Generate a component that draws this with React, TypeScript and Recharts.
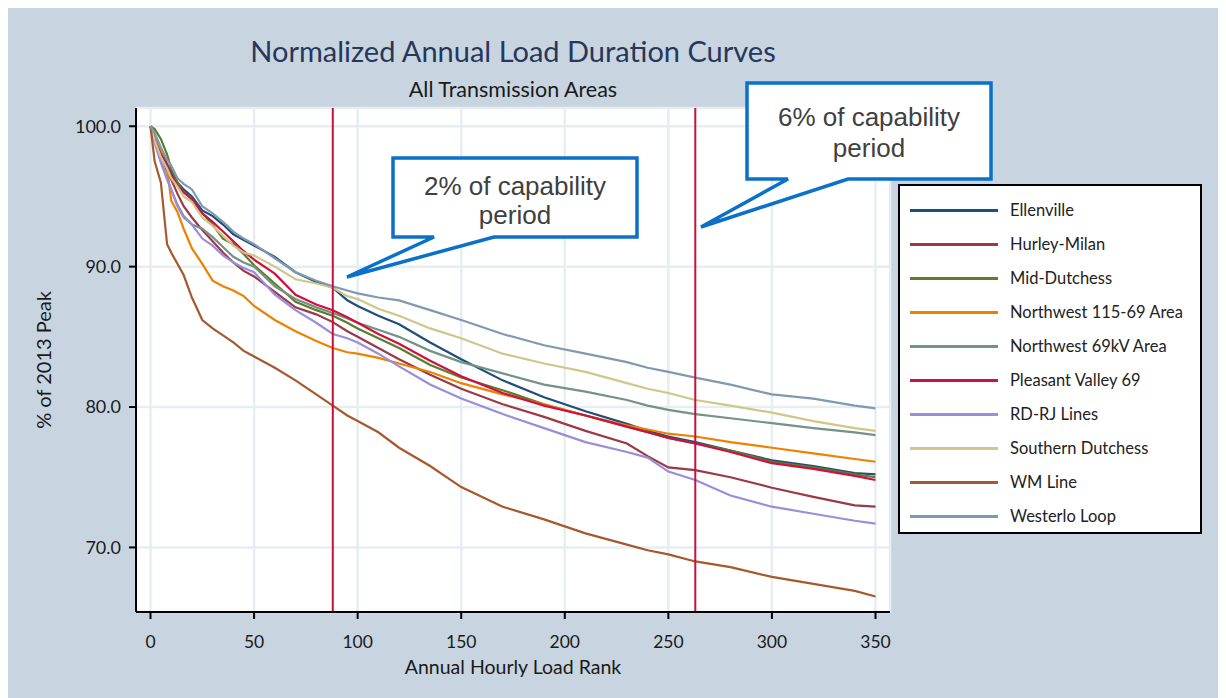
import { LineChart, Line, XAxis, YAxis, CartesianGrid, ReferenceLine, Legend } from 'recharts';

// hourly load rank (x) at which the curves were read
const ranks = [0, 2, 5, 8, 10, 13, 16, 20, 25, 30, 35, 40, 45, 50, 60, 70, 80, 88, 95, 100, 110, 120, 135, 150, 170, 190, 210, 230, 240, 250, 263, 280, 300, 320, 340, 350];

// % of 2013 peak, one list per transmission area
const ellenville = [100, 99.3, 98.2, 97.3, 96.7, 96.0, 95.5, 95.0, 94.0, 93.6, 93.0, 92.3, 91.9, 91.5, 90.7, 89.6, 88.9, 88.5, 87.6, 87.2, 86.5, 85.9, 84.6, 83.4, 81.9, 80.7, 79.7, 78.8, 78.3, 77.9, 77.5, 76.9, 76.2, 75.8, 75.3, 75.2];
const hurleyMilan = [100, 99.3, 98.0, 96.8, 96.2, 95.2, 94.3, 93.5, 92.6, 91.8, 91.0, 90.3, 89.7, 89.3, 88.2, 87.1, 86.6, 86.05, 85.4, 85.0, 84.2, 83.4, 82.3, 81.3, 80.2, 79.3, 78.3, 77.4, 76.5, 75.7, 75.5, 75.0, 74.25, 73.6, 73.0, 72.9];
const midDutchess = [100, 99.8, 99.1, 98.0, 97.0, 96.0, 95.3, 94.8, 93.8, 93.0, 92.0, 91.6, 90.9, 90.1, 88.8, 87.5, 86.9, 86.5, 86.0, 85.6, 84.9, 84.2, 83.0, 82.1, 81.2, 80.2, 79.4, 78.6, 78.2, 77.8, 77.4, 76.9, 76.1, 75.7, 75.2, 75.0];
const northwest11569 = [100, 99.3, 98.2, 97.0, 94.7, 93.9, 92.7, 91.3, 90.2, 89.0, 88.6, 88.3, 87.9, 87.2, 86.2, 85.4, 84.7, 84.2, 83.9, 83.8, 83.5, 83.1, 82.5, 81.7, 80.9, 80.2, 79.4, 78.7, 78.4, 78.1, 77.9, 77.5, 77.1, 76.7, 76.3, 76.1];
const northwest69kv = [100, 99.2, 97.5, 96.3, 95.5, 94.4, 93.6, 93.0, 92.7, 92.1, 91.4, 90.7, 90.3, 90.0, 88.6, 87.7, 87.1, 86.7, 86.3, 86.0, 85.5, 85.0, 84.0, 83.2, 82.4, 81.6, 81.1, 80.5, 80.1, 79.8, 79.5, 79.2, 78.85, 78.5, 78.2, 78.0];
const pleasantValley = [100, 99.0, 98.0, 97.2, 96.5, 95.8, 95.3, 94.8, 93.8, 93.2, 92.5, 91.8, 91.1, 90.5, 89.5, 88.0, 87.3, 86.9, 86.4, 86.0, 85.2, 84.5, 83.3, 82.2, 81.0, 80.1, 79.4, 78.6, 78.2, 77.8, 77.4, 76.8, 76.0, 75.6, 75.1, 74.8];
const rdRjLines = [100, 98.8, 97.4, 96.2, 95.5, 94.3, 93.5, 93.0, 92.0, 91.5, 90.8, 90.3, 89.9, 89.6, 88.0, 86.9, 86.0, 85.2, 84.9, 84.6, 83.8, 82.9, 81.6, 80.6, 79.5, 78.5, 77.5, 76.8, 76.4, 75.4, 74.8, 73.7, 72.9, 72.4, 71.9, 71.7];
const southernDutchess = [100, 99.0, 97.8, 97.0, 96.3, 95.7, 95.0, 94.6, 93.5, 92.9, 92.2, 91.5, 91.0, 90.8, 90.0, 89.1, 88.8, 88.5, 87.9, 87.7, 87.0, 86.5, 85.6, 84.9, 83.8, 83.1, 82.5, 81.7, 81.3, 81.0, 80.5, 80.1, 79.6, 79.0, 78.5, 78.3];
const wmLine = [100, 97.5, 96.0, 91.6, 91.0, 90.2, 89.4, 87.8, 86.2, 85.6, 85.1, 84.6, 84.0, 83.6, 82.8, 81.9, 80.9, 80.1, 79.4, 79.0, 78.2, 77.1, 75.8, 74.3, 72.9, 72.0, 71.0, 70.2, 69.8, 69.5, 69.0, 68.6, 67.9, 67.4, 66.9, 66.5];
const westerloLoop = [100, 99.5, 98.5, 97.6, 97.2, 96.3, 95.9, 95.5, 94.3, 93.8, 93.2, 92.5, 92.0, 91.6, 90.6, 89.6, 89.0, 88.6, 88.3, 88.1, 87.8, 87.6, 86.9, 86.2, 85.2, 84.4, 83.8, 83.2, 82.8, 82.5, 82.1, 81.6, 80.9, 80.6, 80.1, 79.9];

const seriesNames = ['Ellenville', 'Hurley-Milan', 'Mid-Dutchess', 'Northwest 115-69 Area', 'Northwest 69kV Area', 'Pleasant Valley 69', 'RD-RJ Lines', 'Southern Dutchess', 'WM Line', 'Westerlo Loop'];
const seriesValues = [ellenville, hurleyMilan, midDutchess, northwest11569, northwest69kv, pleasantValley, rdRjLines, southernDutchess, wmLine, westerloLoop];
const seriesColors = ['#1f4e79', '#9b3a46', '#5e7d2b', '#ee8100', '#739385', '#d01040', '#9a8ed8', '#cfc68a', '#a6592e', '#8099b3'];

const xTicks = [0, 50, 100, 150, 200, 250, 300, 350];
const yTicks = [70, 80, 90, 100];
const capabilityMarks = [88, 263]; // 2% and 6% of capability period

const data = ranks.map((rank, i) => {
  const row: any = { rank };
  seriesNames.forEach((name, s) => {
    row[name] = seriesValues[s][i];
  });
  return row;
});

const FONT = 'Lato, "Open Sans", sans-serif';
const ARIAL = '"Liberation Sans", Arial, sans-serif';
const CALLOUT = '#0a70c8';

const LegendBox = (props: any) => (
  <div style={{ width: 304, height: 350, boxSizing: 'border-box', border: '2px solid #000', background: '#fff', paddingTop: 7, paddingLeft: 10, fontFamily: FONT, fontSize: 16.5, color: '#222' }}>
    {(props.payload || []).map((entry: any) => (
      <div key={entry.value} style={{ height: 34, display: 'flex', alignItems: 'center' }}>
        <div style={{ width: 88, height: 3, background: entry.color, marginRight: 12 }} />
        <span>{entry.value}</span>
      </div>
    ))}
  </div>
);

export default function App() {
  return (
    <div style={{ position: 'relative', width: 1218, height: 690, background: '#c8d5e1' }}>
      <LineChart width={1218} height={690} data={data} margin={{ top: 100, right: 336, left: 68, bottom: 56 }}>
        <CartesianGrid fill="#fff" stroke="#e6eef2" strokeWidth={2.5} />
        <XAxis
          dataKey="rank"
          type="number"
          domain={[-7, 357]}
          ticks={xTicks}
          allowDataOverflow
          height={30}
          tickSize={7}
          tickMargin={17}
          axisLine={{ stroke: '#000', strokeWidth: 2 }}
          tickLine={{ stroke: '#000', strokeWidth: 2 }}
          tick={{ fill: '#1a1a1a', fontSize: 17.5, fontFamily: FONT }}
        />
        <YAxis
          type="number"
          domain={[65.4, 101.3]}
          ticks={yTicks}
          allowDataOverflow
          width={60}
          tickSize={7}
          tickMargin={8}
          tickFormatter={(v: number) => v.toFixed(1)}
          axisLine={{ stroke: '#000', strokeWidth: 2 }}
          tickLine={{ stroke: '#000', strokeWidth: 2 }}
          tick={{ fill: '#1a1a1a', fontSize: 18, fontFamily: FONT }}
        />
        {seriesNames.map((name, s) => (
          <Line key={name} dataKey={name} name={name} stroke={seriesColors[s]} strokeWidth={2.2} dot={false} type="linear" isAnimationActive={false} />
        ))}
        {capabilityMarks.map((x) => (
          <ReferenceLine key={x} x={x} stroke="#c8103a" strokeWidth={2} />
        ))}
        <Legend
          layout="horizontal"
          verticalAlign="middle"
          align="center"
          content={<LegendBox />}
          wrapperStyle={{ position: 'absolute', left: 890, top: 176, width: 304, height: 350 }}
        />
      </LineChart>
      <svg width={1218} height={690} style={{ position: 'absolute', left: 0, top: 0, pointerEvents: 'none' }}>
        <text x={505} y={54} textAnchor="middle" fontFamily={FONT} fontSize={29} fill="#27375a">Normalized Annual Load Duration Curves</text>
        <text x={505} y={89} textAnchor="middle" fontFamily={FONT} fontSize={21.5} fill="#1a1a1a">All Transmission Areas</text>
        <text x={505} y={666} textAnchor="middle" fontFamily={FONT} fontSize={19.5} fill="#1a1a1a">Annual Hourly Load Rank</text>
        <text transform="translate(43,352) rotate(-90)" textAnchor="middle" fontFamily={FONT} fontSize={20} fill="#1a1a1a">% of 2013 Peak</text>

        <path d="M385,150 H629 V229 H486 L339,269 L426,229 H385 Z" fill="#fff" stroke={CALLOUT} strokeWidth={3.5} strokeLinejoin="miter" />
        <text x={507} y={187} textAnchor="middle" fontFamily={ARIAL} fontSize={26} fill="#404040">2% of capability</text>
        <text x={507} y={216} textAnchor="middle" fontFamily={ARIAL} fontSize={26} fill="#404040">period</text>

        <path d="M739,75 H983 V171 H840 L693,219 L780,171 H739 Z" fill="#fff" stroke={CALLOUT} strokeWidth={3.5} strokeLinejoin="miter" />
        <text x={861} y={118} textAnchor="middle" fontFamily={ARIAL} fontSize={26} fill="#404040">6% of capability</text>
        <text x={861} y={149} textAnchor="middle" fontFamily={ARIAL} fontSize={26} fill="#404040">period</text>
      </svg>
    </div>
  );
}
